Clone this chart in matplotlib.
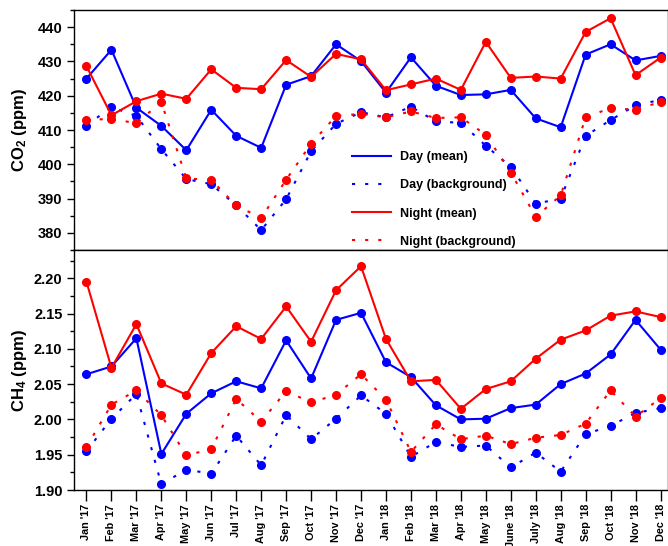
import matplotlib
matplotlib.use("Agg")
import matplotlib.pyplot as plt
from matplotlib.ticker import MultipleLocator, FormatStrFormatter

plt.rcParams['font.family'] = ['Liberation Sans', 'DejaVu Sans']
plt.rcParams['font.weight'] = 'bold'
plt.rcParams['mathtext.fontset'] = 'custom'
plt.rcParams['mathtext.rm'] = 'Liberation Sans:bold'
plt.rcParams['mathtext.it'] = 'Liberation Sans:bold'
plt.rcParams['mathtext.bf'] = 'Liberation Sans:bold'

months = ["Jan '17", "Feb '17", "Mar '17", "Apr '17", "May '17", "Jun '17",
          "Jul '17", "Aug '17", "Sep '17", "Oct '17", "Nov '17", "Dec '17",
          "Jan '18", "Feb '18", "Mar '18", "Apr '18", "May '18", "June '18",
          "July '18", "Aug '18", "Sep '18", "Oct '18", "Nov '18", "Dec '18"]

co2_day_mean = [425.0, 433.4, 416.5, 411.2, 404.1, 415.9, 408.3, 404.8, 423.2, 425.7, 435.0, 430.1,
                420.9, 431.2, 422.9, 420.2, 420.4, 421.7, 413.4, 410.8, 432.0, 435.0, 430.3, 431.6]
co2_day_bg = [411.3, 416.7, 414.1, 404.4, 395.7, 394.2, 388.0, 380.8, 389.8, 403.8, 411.8, 415.2,
              413.7, 416.8, 412.5, 412.1, 405.4, 399.3, 388.5, 390.0, 408.3, 412.9, 417.2, 418.8]
co2_night_mean = [428.6, 414.3, 418.4, 420.6, 419.1, 427.7, 422.3, 421.9, 430.4, 425.5, 432.2, 430.6,
                  421.6, 423.3, 425.0, 421.7, 435.7, 425.2, 425.6, 425.0, 438.6, 442.6, 426.0, 431.1]
co2_night_bg = [413.0, 413.2, 412.0, 418.1, 395.9, 395.4, 388.0, 384.3, 395.5, 406.0, 414.1, 414.7,
                413.7, 415.4, 413.5, 413.7, 408.6, 397.6, 384.7, 390.9, 413.7, 416.4, 415.9, 418.2]

ch4_day_mean = [2.064, 2.075, 2.115, 1.951, 2.008, 2.037, 2.054, 2.044, 2.112, 2.058, 2.141, 2.151,
                2.081, 2.060, 2.020, 2.000, 2.001, 2.016, 2.021, 2.050, 2.065, 2.092, 2.141, 2.099]
ch4_day_bg = [1.955, 2.001, 2.036, 1.908, 1.929, 1.923, 1.977, 1.935, 2.006, 1.972, 2.001, 2.034,
              2.008, 1.947, 1.968, 1.961, 1.963, 1.932, 1.953, 1.926, 1.979, 1.991, 2.009, 2.016]
ch4_night_mean = [2.195, 2.073, 2.135, 2.051, 2.035, 2.094, 2.132, 2.114, 2.160, 2.110, 2.183, 2.217,
                  2.114, 2.054, 2.056, 2.015, 2.043, 2.054, 2.086, 2.113, 2.126, 2.147, 2.153, 2.145]
ch4_night_bg = [1.961, 2.021, 2.041, 2.006, 1.949, 1.958, 2.029, 1.997, 2.040, 2.024, 2.035, 2.064,
                2.028, 1.954, 1.993, 1.972, 1.977, 1.965, 1.974, 1.978, 1.994, 2.041, 2.004, 2.030]

labels = ["Day (mean)", "Day (background)", "Night (mean)", "Night (background)"]
BLUE = '#0000ff'
RED = '#ff0000'
DOT = (0, (1.5, 4.8))

W, H = 668, 546
fig = plt.figure(figsize=(W / 100, H / 100), dpi=100)
left = 73.5 / W
width = 1.0 - left
ax1 = fig.add_axes([left, (H - 250) / H, width, 240 / H])
ax2 = fig.add_axes([left, (H - 490) / H, width, 240 / H])

x = list(range(len(months)))

def draw(ax, dm, dbg, nm, nbg):
    kw = dict(marker='o', markersize=5.5, linewidth=1.5)
    h1, = ax.plot(x, dm, color=BLUE, linestyle='-', **kw)
    h2, = ax.plot(x, dbg, color=BLUE, linestyle=DOT, **kw)
    h3, = ax.plot(x, nm, color=RED, linestyle='-', **kw)
    h4, = ax.plot(x, nbg, color=RED, linestyle=DOT, **kw)
    return [h1, h2, h3, h4]

handles = draw(ax1, co2_day_mean, co2_day_bg, co2_night_mean, co2_night_bg)
draw(ax2, ch4_day_mean, ch4_day_bg, ch4_night_mean, ch4_night_bg)

for ax in (ax1, ax2):
    ax.set_xlim(-0.52, 23.3)
    ax.set_xticks(x)
    for s in ax.spines.values():
        s.set_linewidth(1.0)
    ax.tick_params(axis='y', which='major', direction='out', length=5, width=1.0,
                   labelsize=10.5, pad=3)
    ax.tick_params(axis='y', which='minor', direction='out', length=3, width=1.0)

ax1.set_ylim(375, 445)
ax1.set_yticks([380, 390, 400, 410, 420, 430, 440])
ax1.yaxis.set_minor_locator(MultipleLocator(5))
ax1.yaxis.set_major_formatter(FormatStrFormatter('%d'))
ax1.tick_params(axis='x', which='both', bottom=False, labelbottom=False)

ax2.set_ylim(1.90, 2.24)
ax2.set_yticks([1.90, 1.95, 2.00, 2.05, 2.10, 2.15, 2.20])
ax2.yaxis.set_minor_locator(MultipleLocator(0.025))
ax2.yaxis.set_major_formatter(FormatStrFormatter('%.2f'))
ax2.set_xticklabels(months, rotation=90, fontsize=7.8, fontweight='bold')
ax2.tick_params(axis='x', direction='out', length=8, width=1.0, pad=2)

for ax in (ax1, ax2):
    for t in ax.get_yticklabels():
        t.set_fontweight('bold')

ax1.set_ylabel(r"CO$_{2}$ (ppm)", fontsize=12, fontweight='bold')
ax2.set_ylabel(r"CH$_{4}$ (ppm)", fontsize=12, fontweight='bold')
ax1.yaxis.set_label_coords(-0.075, 0.5)
ax2.yaxis.set_label_coords(-0.075, 0.5)

leg = ax1.legend(handles, labels, loc='upper left',
                 bbox_to_anchor=(352 / W, (H - 151) / H), bbox_transform=fig.transFigure,
                 frameon=False, prop={'size': 9, 'weight': 'bold'},
                 handlelength=3.1, handletextpad=0.7, labelspacing=1.3,
                 borderpad=0.0, borderaxespad=0.0)
for lh in leg.get_lines():
    lh.set_marker('')

fig.savefig('out.png', dpi=100)
